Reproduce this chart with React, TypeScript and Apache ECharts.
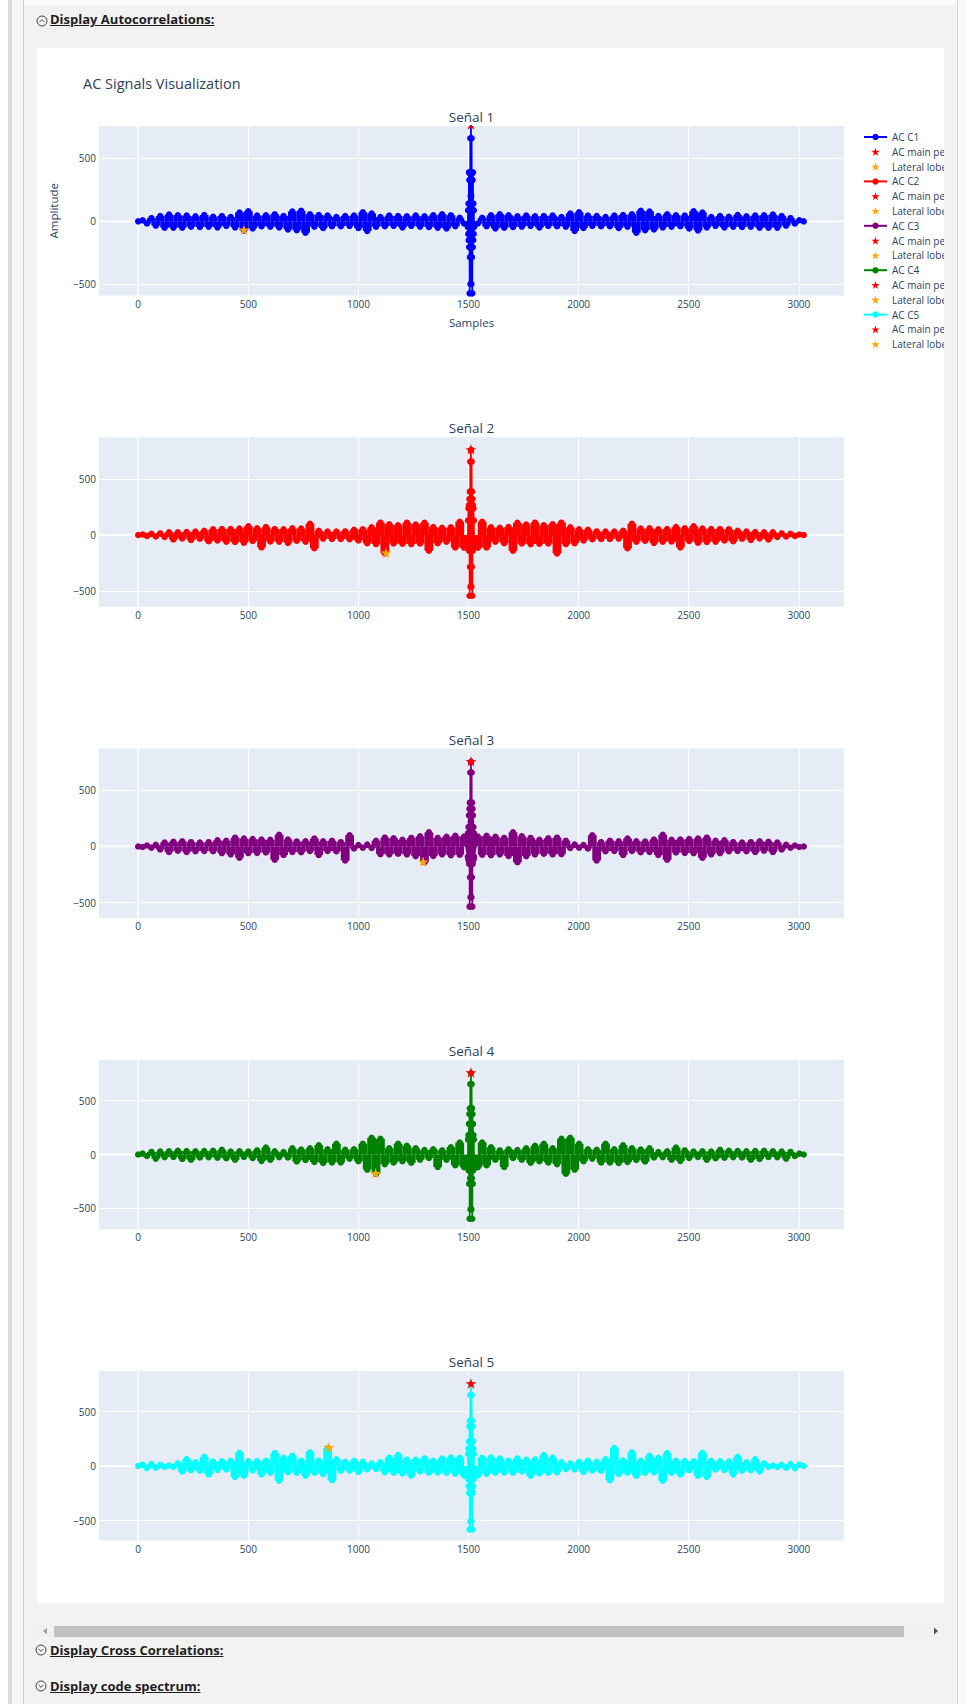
import React, { useEffect, useRef } from "react";
import * as echarts from "echarts";

// ---------- data ----------
const SIGNAL_NAMES = ["AC C1", "AC C2", "AC C3", "AC C4", "AC C5"];
const SUBPLOT_TITLES = ["Señal 1", "Señal 2", "Señal 3", "Señal 4", "Señal 5"];
const SIGNAL_COLORS = ["#0000ff", "#ff0000", "#800080", "#008000", "#00ffff"];
const PEAK_NAME = "AC main peak";
const LOBE_NAME = "Lateral lobe";
const PEAK_COLOR = "#ff0000";
const LOBE_COLOR = "#ffa500";

// sample positions of the arrays below
const COARSE_STEP = 20;
const LEFT_START = 0; // 0 .. 1480
const SPIKE_START = 1497; // 1497 .. 1525 (every sample)
const RIGHT_START = 1542; // 1542 .. 3022

const s1Left = [
  0, 8, -17, 25, -34, 42, -50, 53, -50, 48,
  -50, 45, -42, 39, -45, 50, -42, 36, -48, 42,
  -36, 34, -48, 70, -72, 80, -56, 45, -39, 48,
  -42, 56, -48, 42, -64, 78, -70, 84, -90, 56,
  -42, 50, -53, 45, -39, 34, -39, 42, -36, 45,
  -53, 72, -76, 62, -42, 34, -39, 45, -36, 42,
  -48, 39, -36, 45, -42, 39, -45, 48, -50, 56,
  -56, 48, -39, 28, -17,
];
const s1Spike = [-45, 88, -100, 141, -150, 390, -205, 328, -573, 380, -285, 661, -499, 200, 766, 200, -499, 661, -285, 380, -573, 328, -205, 390, -150, 141, -100, 88, -45];
const s1Right = [
  -17, 28, -39, 48, -56,
  56, -50, 48, -45, 39, -42, 45, -36, 39, -48,
  42, -36, 45, -39, 34, -42, 62, -76, 72, -53,
  45, -36, 42, -39, 34, -39, 45, -53, 50, -42,
  56, -90, 84, -70, 78, -64, 42, -48, 56, -42,
  48, -39, 45, -56, 80, -72, 70, -48, 34, -36,
  42, -48, 36, -42, 50, -45, 39, -42, 45, -50,
  48, -50, 53, -50, 42, -34, 25, -17, 8, 0,
];

const s2Left = [
  0, 5, -8, 10, -13, 14, -18, 24, -40, 24,
  -30, 27, -44, 30, -33, 38, -56, 51, -49, 54,
  -59, 54, -62, 57, -68, 78, -54, 59, -110, 70,
  -57, 54, -59, 51, -70, 59, -51, 57, -59, 100,
  -118, 38, -32, 30, -35, 30, -35, 32, -38, 46,
  -49, 51, -73, 68, -81, 110, -164, 96, -76, 86,
  -78, 110, -81, 94, -76, 108, -140, 70, -73, 65,
  -59, 68, -112, 118, -114,
];
const s2Spike = [-100, 130, -110, 238, -120, 268, -140, 321, -542, 387, -283, 655, -461, 179, 759, 179, -461, 655, -283, 387, -542, 321, -140, 268, -120, 238, -110, 130, -100];
const s2Right = [
  -114, 118, -112, 68, -59,
  65, -73, 70, -140, 108, -76, 94, -81, 110, -78,
  86, -76, 96, -164, 110, -81, 68, -73, 51, -49,
  46, -38, 32, -35, 30, -35, 30, -32, 38, -118,
  100, -59, 57, -51, 59, -70, 51, -59, 54, -57,
  70, -110, 59, -54, 78, -68, 57, -62, 54, -59,
  54, -49, 51, -56, 38, -33, 30, -44, 27, -30,
  24, -40, 24, -18, 14, -13, 10, -8, 5, 0,
];

const s3Left = [
  0, -5, 8, -11, 14, -27, 35, -49, 41, -38,
  46, -49, 38, -43, 35, -41, 38, -43, 54, -59,
  51, -70, 78, -100, 70, -59, 65, -57, 62, -54,
  59, -118, 104, -76, 62, -49, 43, -51, 46, -41,
  70, -76, 46, -41, 51, -43, 38, -125, 100, -18,
  13, -11, 16, -13, 51, -68, 78, -70, 73, -65,
  59, -70, 76, -86, 90, -140, 125, -84, 76, -70,
  86, -78, 94, -73, 89,
];
const s3Spike = [-90, 120, -110, 173, -125, 277, -155, 336, -536, 390, -274, 658, -452, 217, 753, 217, -452, 658, -274, 390, -536, 336, -155, 277, -125, 173, -110, 120, -90];
const s3Right = [
  89, -73, 94, -78, 86,
  -70, 76, -84, 125, -140, 90, -86, 76, -70, 59,
  -65, 73, -70, 78, -68, 51, -13, 16, -11, 13,
  -18, 100, -125, 38, -43, 51, -41, 46, -76, 70,
  -41, 46, -51, 43, -49, 62, -76, 104, -118, 59,
  -54, 62, -57, 65, -59, 70, -100, 78, -70, 51,
  -59, 54, -43, 38, -41, 35, -43, 38, -49, 46,
  -38, 41, -49, 35, -27, 14, -11, 8, -5, 0,
];

const s4Left = [
  0, 8, -14, 24, -38, 27, -24, 30, -22, 35,
  -41, 32, -49, 30, -27, 32, -24, 35, -30, 43,
  -35, 27, -49, 30, -22, 27, -32, 38, -59, 65,
  -49, 30, -24, 22, -27, 57, -65, 46, -51, 57,
  -70, 86, -78, 49, -73, 100, -73, 43, -38, 49,
  -62, 100, -140, 155, -179, 145, -89, 57, -73, 100,
  -62, 81, -76, 57, -49, 41, -32, 49, -115, 38,
  -49, 68, -100, 112, -118,
];
const s4Spike = [-110, 140, -130, 180, -148, 284, -272, 376, -596, 429, -220, 654, -509, 200, 756, 200, -509, 654, -220, 429, -596, 376, -272, 284, -148, 180, -130, 140, -110];
const s4Right = [
  -118, 112, -100, 68, -49,
  38, -115, 49, -32, 41, -49, 57, -76, 81, -62,
  100, -73, 57, -89, 145, -179, 155, -140, 100, -62,
  49, -38, 43, -73, 100, -73, 49, -78, 86, -70,
  57, -51, 46, -65, 57, -27, 22, -24, 30, -49,
  65, -59, 38, -32, 27, -22, 30, -49, 27, -35,
  43, -30, 35, -24, 32, -27, 30, -49, 32, -41,
  35, -22, 30, -24, 27, -38, 24, -14, 8, 0,
];

const s5Left = [
  0, 13, -19, 19, -16, 11, -7, 5, -7, 24,
  -49, 62, -38, 35, -43, 84, -76, 41, -35, 43,
  -32, 49, -100, 122, -89, 43, -38, 46, -76, 49,
  -62, 118, -135, 76, -57, 94, -62, 49, -89, 125,
  -62, 51, -73, 165, -130, 62, -43, 38, -41, 49,
  -54, 38, -30, 22, -27, 35, -57, 76, -62, 100,
  -68, 59, -89, 57, -49, 70, -62, 49, -59, 68,
  -62, 78, -70, 76, -86,
];
const s5Spike = [-90, 110, -120, 160, -186, 226, -247, 363, -582, 415, -200, 652, -506, 180, 753, 180, -506, 652, -200, 415, -582, 363, -247, 226, -186, 160, -120, 110, -90];
const s5Right = [
  -86, 76, -70, 78, -62,
  68, -59, 49, -62, 70, -49, 57, -89, 59, -68,
  100, -62, 76, -57, 35, -27, 22, -30, 38, -54,
  49, -41, 38, -43, 62, -130, 165, -73, 51, -62,
  125, -89, 49, -62, 94, -57, 76, -135, 118, -62,
  49, -76, 46, -38, 43, -89, 122, -100, 49, -32,
  43, -35, 41, -76, 84, -43, 35, -38, 62, -49,
  24, -7, 5, -7, 11, -16, 19, -19, 13, 0,
];

const PEAK_X = [1511, 1511, 1511, 1511, 1511];
const PEAK_Y = [766, 759, 753, 756, 753];
const LOBE_X = [480, 1125, 1294, 1078, 866];
const LOBE_Y = [-72, -164, -140, -179, 168];

const X_MIN = -178;
const X_MAX = 3205;
const Y_MIN = [-590, -640, -637, -694, -683];
const Y_MAX = [758, 872, 872, 880, 872];

const SIGNALS = [
  { left: s1Left, spike: s1Spike, right: s1Right },
  { left: s2Left, spike: s2Spike, right: s2Right },
  { left: s3Left, spike: s3Spike, right: s3Right },
  { left: s4Left, spike: s4Spike, right: s4Right },
  { left: s5Left, spike: s5Spike, right: s5Right },
];

// ---------- layout / style ----------
const FONT = "'Open Sans', verdana, arial, sans-serif";
const TXT = "#2a3f5f";
const GRID_LEFT = 62;
const GRID_WIDTH = 745;
const GRID_HEIGHT = 169.5;
const GRID_TOPS = [78, 389.25, 700.5, 1011.75, 1323];
const STAR_ICON =
  "path://M50,0L61.23,34.55L97.55,34.55L68.17,55.9L79.39,90.45L50,69.1L20.61,90.45L31.83,55.9L2.45,34.55L38.77,34.55Z";
const STAR_R = 5.8;
// one band slot = two coarse samples wide, in pixels
const BAND_WIDTH_PX = (GRID_WIDTH / (X_MAX - X_MIN)) * COARSE_STEP * 2;

type Sig = { left: number[]; spike: number[]; right: number[] };

function coarsePoints(sig: Sig) {
  const pts: number[][] = [];
  sig.left.forEach((v, i) => pts.push([LEFT_START + i * COARSE_STEP, v]));
  sig.right.forEach((v, i) => pts.push([RIGHT_START + i * COARSE_STEP, v]));
  return pts;
}

function allPoints(sig: Sig) {
  const pts: number[][] = [];
  sig.left.forEach((v, i) => pts.push([LEFT_START + i * COARSE_STEP, v]));
  sig.spike.forEach((v, i) => pts.push([SPIKE_START + i, v]));
  sig.right.forEach((v, i) => pts.push([RIGHT_START + i * COARSE_STEP, v]));
  return pts;
}

function starRenderer(color: string) {
  return (params: any, api: any) => {
    const c = api.coord([api.value(0), api.value(1)]);
    const points: number[][] = [];
    for (let i = 0; i < 10; i++) {
      const a = -Math.PI / 2 + (i * Math.PI) / 5;
      const r = i % 2 === 0 ? STAR_R : STAR_R * 0.382;
      points.push([c[0] + r * Math.cos(a), c[1] + r * Math.sin(a)]);
    }
    return { type: "polygon", shape: { points }, style: { fill: color } };
  };
}

const fmt = (v: number) => (v < 0 ? "\u2212" + Math.abs(v) : String(v));

function buildOption(): any {
  const grid = GRID_TOPS.map((top) => ({
    left: GRID_LEFT,
    top,
    width: GRID_WIDTH,
    height: GRID_HEIGHT,
    show: true,
    backgroundColor: "#e5ecf6",
    borderWidth: 0,
  }));
  const axisLabel = { color: TXT, fontSize: 10, fontFamily: FONT, margin: 3, showMinLabel: false, showMaxLabel: false, formatter: fmt };
  const splitLine = { show: true, showMinLine: false, showMaxLine: false, lineStyle: { color: "#ffffff", width: 1 } };
  const xAxis = GRID_TOPS.map((_, k) => ({
    type: "value", gridIndex: k, min: X_MIN, max: X_MAX, splitNumber: 6, minInterval: 500, maxInterval: 500,
    axisLine: { show: false }, axisTick: { show: false }, axisLabel, splitLine,
  }));
  const yAxis = GRID_TOPS.map((_, k) => ({
    type: "value", gridIndex: k, min: Y_MIN[k], max: Y_MAX[k], splitNumber: 3, minInterval: 500, maxInterval: 500,
    axisLine: { show: false }, axisTick: { show: false }, axisLabel, splitLine,
  }));

  const series: any[] = [];
  const legendData: any[] = [];
  SIGNALS.forEach((sig, k) => {
    series.push({
      type: "line", name: `zero-y-${k}`, xAxisIndex: k, yAxisIndex: k, silent: true, z: 1,
      data: [[X_MIN, 0], [X_MAX, 0]], symbol: "none", lineStyle: { color: "#ffffff", width: 1.8 },
    });
    series.push({
      type: "line", name: `zero-x-${k}`, xAxisIndex: k, yAxisIndex: k, silent: true, z: 1,
      data: [[0, Y_MIN[k]], [0, Y_MAX[k]]], symbol: "none", lineStyle: { color: "#ffffff", width: 1.8 },
    });
    const color = SIGNAL_COLORS[k];
    // dense fill between the signal and zero (the band of overlapping samples)
    series.push({
      type: "bar",
      name: `band-${k}`,
      xAxisIndex: k,
      yAxisIndex: k,
      data: coarsePoints(sig),
      barWidth: BAND_WIDTH_PX,
      silent: true,
      z: 2,
      itemStyle: { color, borderWidth: 0 },
    });
    series.push({
      type: "line",
      name: SIGNAL_NAMES[k],
      xAxisIndex: k,
      yAxisIndex: k,
      data: allPoints(sig),
      symbol: "circle",
      symbolSize: 6.5,
      showSymbol: true,
      clip: true,
      z: 3,
      silent: true,
      itemStyle: { color },
      lineStyle: { color, width: 1.8 },
    });
    const peakName = `${PEAK_NAME} #${k + 1}`;
    const lobeName = `${LOBE_NAME} #${k + 1}`;
    series.push({
      type: "custom", name: peakName, xAxisIndex: k, yAxisIndex: k, clip: true, z: 4, silent: true,
      itemStyle: { color: PEAK_COLOR }, encode: { x: 0, y: 1 },
      data: [[PEAK_X[k], PEAK_Y[k]]], renderItem: starRenderer(PEAK_COLOR),
    });
    series.push({
      type: "custom", name: lobeName, xAxisIndex: k, yAxisIndex: k, clip: true, z: 4, silent: true,
      itemStyle: { color: LOBE_COLOR }, encode: { x: 0, y: 1 },
      data: [[LOBE_X[k], LOBE_Y[k]]], renderItem: starRenderer(LOBE_COLOR),
    });
    legendData.push(
      { name: SIGNAL_NAMES[k] },
      { name: peakName, icon: STAR_ICON, itemStyle: { color: PEAK_COLOR } },
      { name: lobeName, icon: STAR_ICON, itemStyle: { color: LOBE_COLOR } }
    );
  });

  const centerX = GRID_LEFT + GRID_WIDTH / 2;
  const graphicEls: any[] = [
    {
      type: "text", x: 46, y: 35, silent: true,
      style: { text: "AC Signals Visualization", fill: TXT, font: `14.5px ${FONT}`, align: "left", verticalAlign: "middle" },
    },
    {
      type: "text", x: 16, y: GRID_TOPS[0] + GRID_HEIGHT / 2, rotation: Math.PI / 2, silent: true,
      style: { text: "Amplitude", fill: TXT, font: `11.5px ${FONT}`, align: "center", verticalAlign: "middle" },
    },
    {
      type: "text", x: centerX, y: GRID_TOPS[0] + GRID_HEIGHT + 27, silent: true,
      style: { text: "Samples", fill: TXT, font: `11.5px ${FONT}`, align: "center", verticalAlign: "middle" },
    },
  ];
  SUBPLOT_TITLES.forEach((t, k) => {
    graphicEls.push({
      type: "text", x: centerX, y: GRID_TOPS[k] - 9, silent: true,
      style: { text: t, fill: TXT, font: `13.5px ${FONT}`, align: "center", verticalAlign: "middle" },
    });
  });

  return {
    animation: false,
    backgroundColor: "#ffffff",
    textStyle: { fontFamily: FONT },
    grid,
    xAxis,
    yAxis,
    legend: {
      orient: "vertical",
      left: 826,
      top: 84,
      padding: 0,
      itemWidth: 23,
      itemHeight: 8,
      itemGap: 4.8,
      selectedMode: false,
      textStyle: { fontFamily: FONT, fontSize: 10, color: TXT },
      formatter: (name: string) => name.split(" #")[0],
      data: legendData,
    },
    graphic: { elements: graphicEls },
    series,
  };
}

// ---------- page pieces ----------
function CircleIcon({ cx, cy, up }: { cx: number; cy: number; up: boolean }) {
  return (
    <svg width={12} height={12} style={{ position: "absolute", left: cx - 6, top: cy - 6 }} viewBox="0 0 12 12">
      <circle cx={6} cy={6} r={5} fill="none" stroke="#444" strokeWidth={1} />
      {up ? (
        <polyline points="3.6,7 6,4.6 8.4,7" fill="none" stroke="#444" strokeWidth={1} />
      ) : (
        <polyline points="3.6,5 6,7.4 8.4,5" fill="none" stroke="#444" strokeWidth={1} />
      )}
    </svg>
  );
}

function Header({ baseline, text, up, iconY, iconX }: { baseline: number; text: string; up: boolean; iconY: number; iconX: number }) {
  return (
    <>
      <CircleIcon cx={iconX} cy={iconY} up={up} />
      <div
        style={{
          position: "absolute",
          left: 50,
          top: baseline - 14,
          fontFamily: FONT,
          fontWeight: 700,
          fontSize: 13,
          lineHeight: "18px",
          color: "#1e1e1e",
          textDecoration: "underline",
          whiteSpace: "nowrap",
        }}
      >
        {text}
      </div>
    </>
  );
}

export default function App() {
  const ref = useRef<HTMLDivElement>(null);
  useEffect(() => {
    if (!ref.current) return;
    const chart = echarts.init(ref.current, null, { renderer: "svg" });
    chart.setOption(buildOption());
    return () => chart.dispose();
  }, []);

  const abs = (s: React.CSSProperties): React.CSSProperties => ({ position: "absolute", ...s });

  return (
    <div style={abs({ left: 0, top: 0, width: 965, height: 1704, background: "#f2f2f2", overflow: "hidden" })}>
      <div style={abs({ left: 0, top: 0, width: 965, height: 5, background: "#fbfbfb" })} />
      <div style={abs({ left: 0, top: 0, width: 8, height: 1704, background: "#ffffff" })} />
      <div style={abs({ left: 8, top: 0, width: 4, height: 1704, background: "#dadada" })} />
      <div style={abs({ left: 12, top: 0, width: 11, height: 1704, background: "#f6f6f6" })} />
      <div style={abs({ left: 23, top: 0, width: 1, height: 1704, background: "#cdcdcd" })} />
      <div style={abs({ left: 957, top: 0, width: 1, height: 1704, background: "#d4d4d4" })} />
      <div style={abs({ left: 958, top: 0, width: 7, height: 1704, background: "#f9f9f9" })} />

      <Header baseline={24.3} text="Display Autocorrelations:" up={true} iconX={42.3} iconY={20.5} />

      <div
        ref={ref}
        style={abs({ left: 37, top: 48, width: 907, height: 1555, background: "#ffffff", overflow: "hidden" })}
      />

      {/* horizontal scrollbar */}
      <div style={abs({ left: 37, top: 1625, width: 907, height: 12, background: "#f1f1f1" })} />
      <div style={abs({ left: 54, top: 1625.5, width: 850, height: 11.5, background: "#c1c1c1" })} />
      <svg width={8} height={10} style={abs({ left: 41, top: 1626 })} viewBox="0 0 8 10">
        <polygon points="6,1.5 6,8.5 2,5" fill="#a3a3a3" />
      </svg>
      <svg width={8} height={10} style={abs({ left: 932, top: 1626 })} viewBox="0 0 8 10">
        <polygon points="2,1.5 2,8.5 6,5" fill="#505050" />
      </svg>

      <Header baseline={1654.5} text="Display Cross Correlations:" up={false} iconX={41.3} iconY={1649.5} />
      <Header baseline={1691} text="Display code spectrum:" up={false} iconX={41.3} iconY={1686.3} />
    </div>
  );
}
